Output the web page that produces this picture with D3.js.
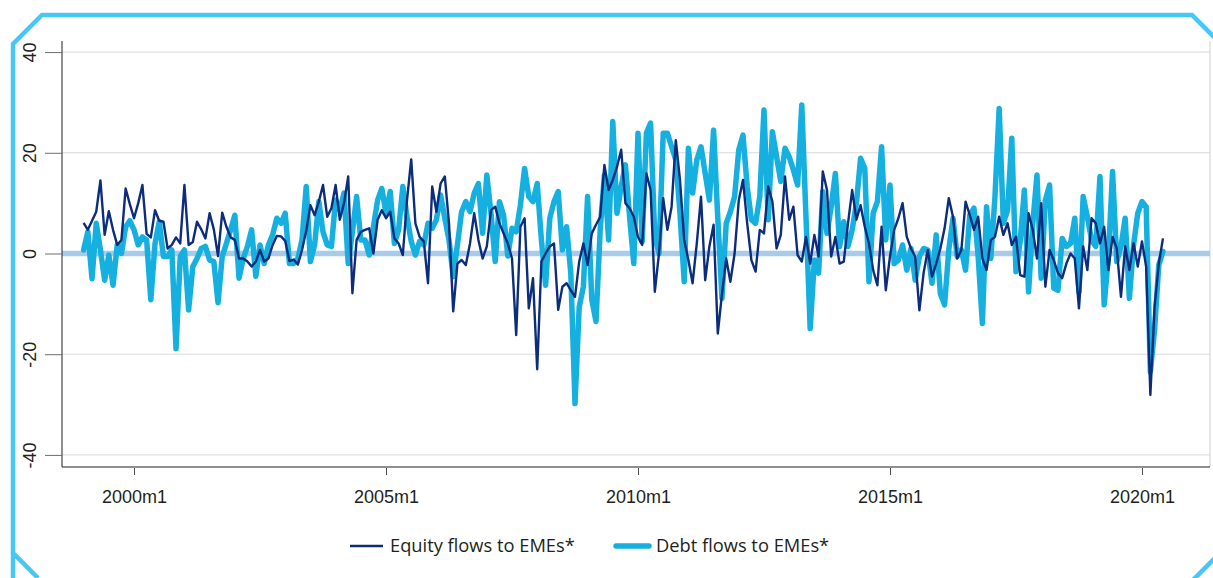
<!DOCTYPE html>
<html>
<head>
<meta charset="utf-8">
<script src="https://cdn.jsdelivr.net/npm/d3@7"></script>
<style>
  html, body { margin: 0; padding: 0; background: #fff; }
  svg { display: block; font-family: "Open Sans", "Noto Sans", sans-serif; }
</style>
</head>
<body>
<div id="chart-container"></div>
<script>
// monthly series, first observation 1999m1
const startYear = 1999;

const equityFlows = [
  6.1, 4.7, 6.5, 8.3, 14.5, 3.7, 8.4, 4.7, 1.7, 2.7, 12.9, 9.8,
  7, 10, 13.6, 3.9, 3.2, 8.6, 6.5, 6.3, 1, 1.7, 3.2, 2,
  13.6, 1.7, 2.3, 6.3, 4.8, 3, 8, 4.8, -0.5, 8.1, 5.3, 3.2,
  2.7, -1, -1, -1.6, -2.6, -1.6, 0.7, -1.6, -1, 1.7, 3.5, 3.4,
  2.5, -1.5, -1.2, -2.2, 0.7, 4.5, 9.6, 7.6, 10.3, 13.6, 7.3, 9,
  13.6, 6.7, 10, 15.3, -7.9, 2.7, 4.3, 4.7, 5, 0, 6.7, 8.6,
  7, 8.3, 3, 2, -0.3, 10.6, 18.7, 6, 3.3, 2.4, -5.9, 13.3,
  8.3, 13.9, 15.3, 6, -11.5, -2, -1.3, -2.3, 2, 8, 2.7, -1,
  1.4, 8.6, 9.3, 6, 4, 2, -1, -16.2, 5.3, 7, -10.9, -4.9,
  -23, -1.6, 0, 1.4, 2, -11.2, -6.6, -5.9, -7.3, -8.6, -1.6, 2,
  -2.3, 4, 5.7, 7.3, 17.6, 12.6, 14.6, 17.2, 20.6, 10, 9, 7.3,
  3.3, 1.7, 15.9, 12.6, -7.6, 0, 11, 4.7, 9.3, 22.5, 14.6, 2.7,
  -1.3, -5.9, 2, 11.3, -5.3, 1.4, 5.7, -15.9, -8, -1, -5.6, 0,
  10.6, 14.6, 6, -1.3, -3.6, 4.7, 4, 13.3, 10.3, 1, 3.7, 15.3,
  6.7, 9.3, -0.3, -1.6, 3.3, -2, 3.7, -0.6, 16.3, 12.6, -0.6, 3.3,
  -2, -1.6, 6, 12.6, 6.7, 9.6, 5.3, 2, -3.3, -6.3, 5.3, -7.3,
  -0.6, 4.7, 7, 10, 3.3, 1, -0.6, -11.3, -3.9, 0.7, -4.6, -2,
  1, 5, 11, 7.3, -1, 0.7, 10.3, 7.6, 4.7, 7.3, -1, -3.3,
  2.7, 3.3, 7.3, 3.7, 6, 1.7, 3.3, -4.3, -4.6, 8, 4.7, -1,
  10, -6.6, 0.7, -1.3, -3.9, -4.9, -2, 0, -1, -10.9, 1.4, -3.3,
  7, 6, 2, 5.3, -3.3, 3.3, 1, -8.6, 1.4, -3.3, 2, -2.6,
  2.4, -2.6, -28.1, -10.6, -2, 3
];

const debtFlows = [
  0.7, 4.3, -5, 6, 0.7, -5.3, -0.3, -6.3, 1.7, 0, 5.3, 6.5,
  4.7, 1.7, 3.3, 2.7, -9.2, 2, 6.3, -0.6, -0.6, 0.7, -18.9, -0.6,
  0.7, -11.2, -2.6, -1, 1, 1.4, -1.3, -1.6, -9.8, -0.6, 2, 4.7,
  7.6, -4.9, -1, 1.4, 4.7, -4.5, 1.7, -2, 1.7, 3.7, 7, 6,
  8, -2, -2, -1, 2.7, 13.3, -1.6, 1.7, 10.3, 4.3, 1.7, 1.4,
  10.6, 8.6, 12, -2, 4.3, 11.3, 2.7, 2.7, -0.3, 5.3, 10.6, 12.9,
  8, 12.3, 2, 4.7, 13.3, 7.3, 2.4, -0.3, 2.4, 1.7, 6, 5,
  6.7, 11.6, 7, 2.7, -4.6, 1.7, 8.3, 10.3, 8.3, 12, 13.9, 4,
  15.6, 8, -1.6, 10.3, 7.6, -0.5, 5, 4.3, 9.6, 16.9, 11.3, 10.3,
  13.9, 2.7, -6.3, 7, 10.3, 12.3, 0.7, 5.3, -3.9, -29.8, -10.6, -6.6,
  11.3, -9.2, -13.5, 4.7, 15.6, 2.7, 26.2, 8, 13.3, 17.6, 7.3, -2,
  23.9, 2.4, 23.9, 25.9, 3.3, 0, 23.9, 23.9, 21.2, 18.6, 8, -5.6,
  20.9, 12, 18.6, 21.2, 15.9, 10.6, 24.5, 7, -8.9, 6, 8.3, 11.3,
  20.6, 23.5, 13.3, 6.7, 6, 11.3, 28.5, 6.7, 24.2, 19.2, 14.3, 20.9,
  19.2, 16.6, 13.6, 29.5, 7.3, -14.9, -1.3, -3.9, 12.3, 4, 9.3, 15.9,
  1.4, 6.3, 1.4, 4.7, 10, 18.9, 16.9, -5.6, 8, 10.3, 21.2, 2.7,
  13.6, -2, -1.3, 1.7, -3.3, 1, -5.3, -0.6, 1, 0.7, -5.9, 3.7,
  -8, -10.2, 0.7, 7, -0.6, 0.7, -3.3, 7.6, 9, -0.6, -13.9, 9.3,
  -1, 11.3, 28.8, 6, 8.6, 22.9, -3.6, 2.4, 12.6, -7.6, 6, 15.6,
  -4.9, 10.6, 13.6, -6.9, -7.3, 3, 1.4, 2, 7, -7.6, 11.3, 7.3,
  2.7, 1.4, 15.3, -10.2, -0.6, 16.3, -1.6, 1.4, 7, -8.9, 1.7, 8,
  10.3, 9.3, -23.5, -15.2, -2.3, 0.4
];

const xTickLabels = ["2000m1", "2005m1", "2010m1", "2015m1", "2020m1"];
const yTicks = [-40, -20, 0, 20, 40];
const seriesNames = ["Equity flows to EMEs*", "Debt flows to EMEs*"];

// month labels like 1999m1, 1999m2, ...
const months = equityFlows.map((d, i) => `${startYear + Math.floor(i / 12)}m${(i % 12) + 1}`);
const monthIndex = (label) => months.indexOf(label);

const equityColor = "#0c2d7c";
const debtColor = "#15b0df";
const frameColor = "#45c8f5";

const W = 1213;
const H = 578;
const plot = { left: 62, right: 1210, top: 41, bottom: 467 };

const svg = d3
  .select("#chart-container")
  .append("svg")
  .attr("width", W)
  .attr("height", H);

// scales
const xScale = d3.scaleLinear().domain([-5.15, 268.2]).range([plot.left, plot.right]);
const yScale = d3.scaleLinear().domain([-42.4, 42.2]).range([plot.bottom, plot.top]);

// outer frame with cut corners
svg
  .append("path")
  .attr("d", "M13,700 L13,553 L38,578 M13,553 L13,44 L42,15 L1192,15 L1240,63")
  .attr("fill", "none")
  .attr("stroke", frameColor)
  .attr("stroke-width", 4.5)
  .attr("stroke-linejoin", "miter");
svg
  .append("path")
  .attr("d", "M1193,580 L1215,558")
  .attr("stroke", frameColor)
  .attr("stroke-width", 4.5);

// horizontal gridlines
svg
  .selectAll(".yGrid")
  .data(yTicks)
  .join("line")
  .attr("class", "yGrid")
  .attr("x1", plot.left)
  .attr("x2", plot.right)
  .attr("y1", (d) => yScale(d))
  .attr("y2", (d) => yScale(d))
  .attr("stroke", "#d9d9d9")
  .attr("stroke-width", 1);

// right border of plot region
svg
  .append("line")
  .attr("x1", plot.right)
  .attr("x2", plot.right)
  .attr("y1", plot.top)
  .attr("y2", plot.bottom)
  .attr("stroke", "#cfcfcf")
  .attr("stroke-width", 1);

// zero line
svg
  .append("line")
  .attr("x1", plot.left)
  .attr("x2", plot.right)
  .attr("y1", yScale(0))
  .attr("y2", yScale(0))
  .attr("stroke", "#a9cbea")
  .attr("stroke-width", 5.5);

// y-axis
const yAxis = d3.axisLeft(yScale).tickValues(yTicks).tickSize(17).tickPadding(0).tickFormat((d) => d);
svg
  .append("g")
  .attr("transform", `translate(${plot.left}, 0)`)
  .call(yAxis)
  .call((g) => g.select(".domain").attr("stroke", "#231f20").attr("d", `M0,${plot.top}V${plot.bottom}`))
  .call((g) => g.selectAll(".tick line").attr("stroke", "#6d6e71"))
  .call((g) =>
    g
      .selectAll(".tick text")
      .attr("x", null)
      .attr("dy", null)
      .attr("transform", "translate(-26, 0) rotate(-90)")
      .attr("text-anchor", "middle")
      .attr("fill", "#231f20")
      .style("font-size", "18px")
  );

// x-axis
const xAxis = d3
  .axisBottom(xScale)
  .tickValues(xTickLabels.map(monthIndex))
  .tickFormat((d) => months[d])
  .tickSize(7)
  .tickPadding(16);
svg
  .append("g")
  .attr("transform", `translate(0, ${plot.bottom})`)
  .call(xAxis)
  .call((g) => g.select(".domain").attr("stroke", "#231f20").attr("stroke-width", 1.2).attr("d", `M${plot.left},0H${plot.right}`))
  .call((g) => g.selectAll(".tick line").attr("stroke", "#4d4d4f").attr("transform", "translate(0, 1)"))
  .call((g) => g.selectAll(".tick text").attr("fill", "#231f20").style("font-size", "18px"));

// line generator
const line = d3
  .line()
  .x((d, i) => xScale(i))
  .y((d) => yScale(d));

svg
  .append("path")
  .datum(debtFlows)
  .attr("fill", "none")
  .attr("stroke", debtColor)
  .attr("stroke-width", 5.5)
  .attr("stroke-linejoin", "round")
  .attr("stroke-linecap", "round")
  .attr("d", line);

svg
  .append("path")
  .datum(equityFlows)
  .attr("fill", "none")
  .attr("stroke", equityColor)
  .attr("stroke-width", 2.4)
  .attr("stroke-linejoin", "round")
  .attr("d", line);

// legend
const legend = svg.append("g").attr("transform", "translate(0, 546)");
const legendItems = [
  { name: seriesNames[0], color: equityColor, width: 2.5, x: 350 },
  { name: seriesNames[1], color: debtColor, width: 5.5, x: 616 }
];
legendItems.forEach((d) => {
  legend
    .append("line")
    .attr("x1", d.x)
    .attr("x2", d.x + 33)
    .attr("y1", 0)
    .attr("y2", 0)
    .attr("stroke", d.color)
    .attr("stroke-width", d.width)
    .attr("stroke-linecap", d.width > 3 ? "round" : "butt");
  legend
    .append("text")
    .attr("x", d.x + 40)
    .attr("y", 0)
    .attr("dy", "0.35em")
    .attr("fill", "#231f20")
    .style("font-size", "18.3px")
    .text(d.name);
});
</script>
</body>
</html>
